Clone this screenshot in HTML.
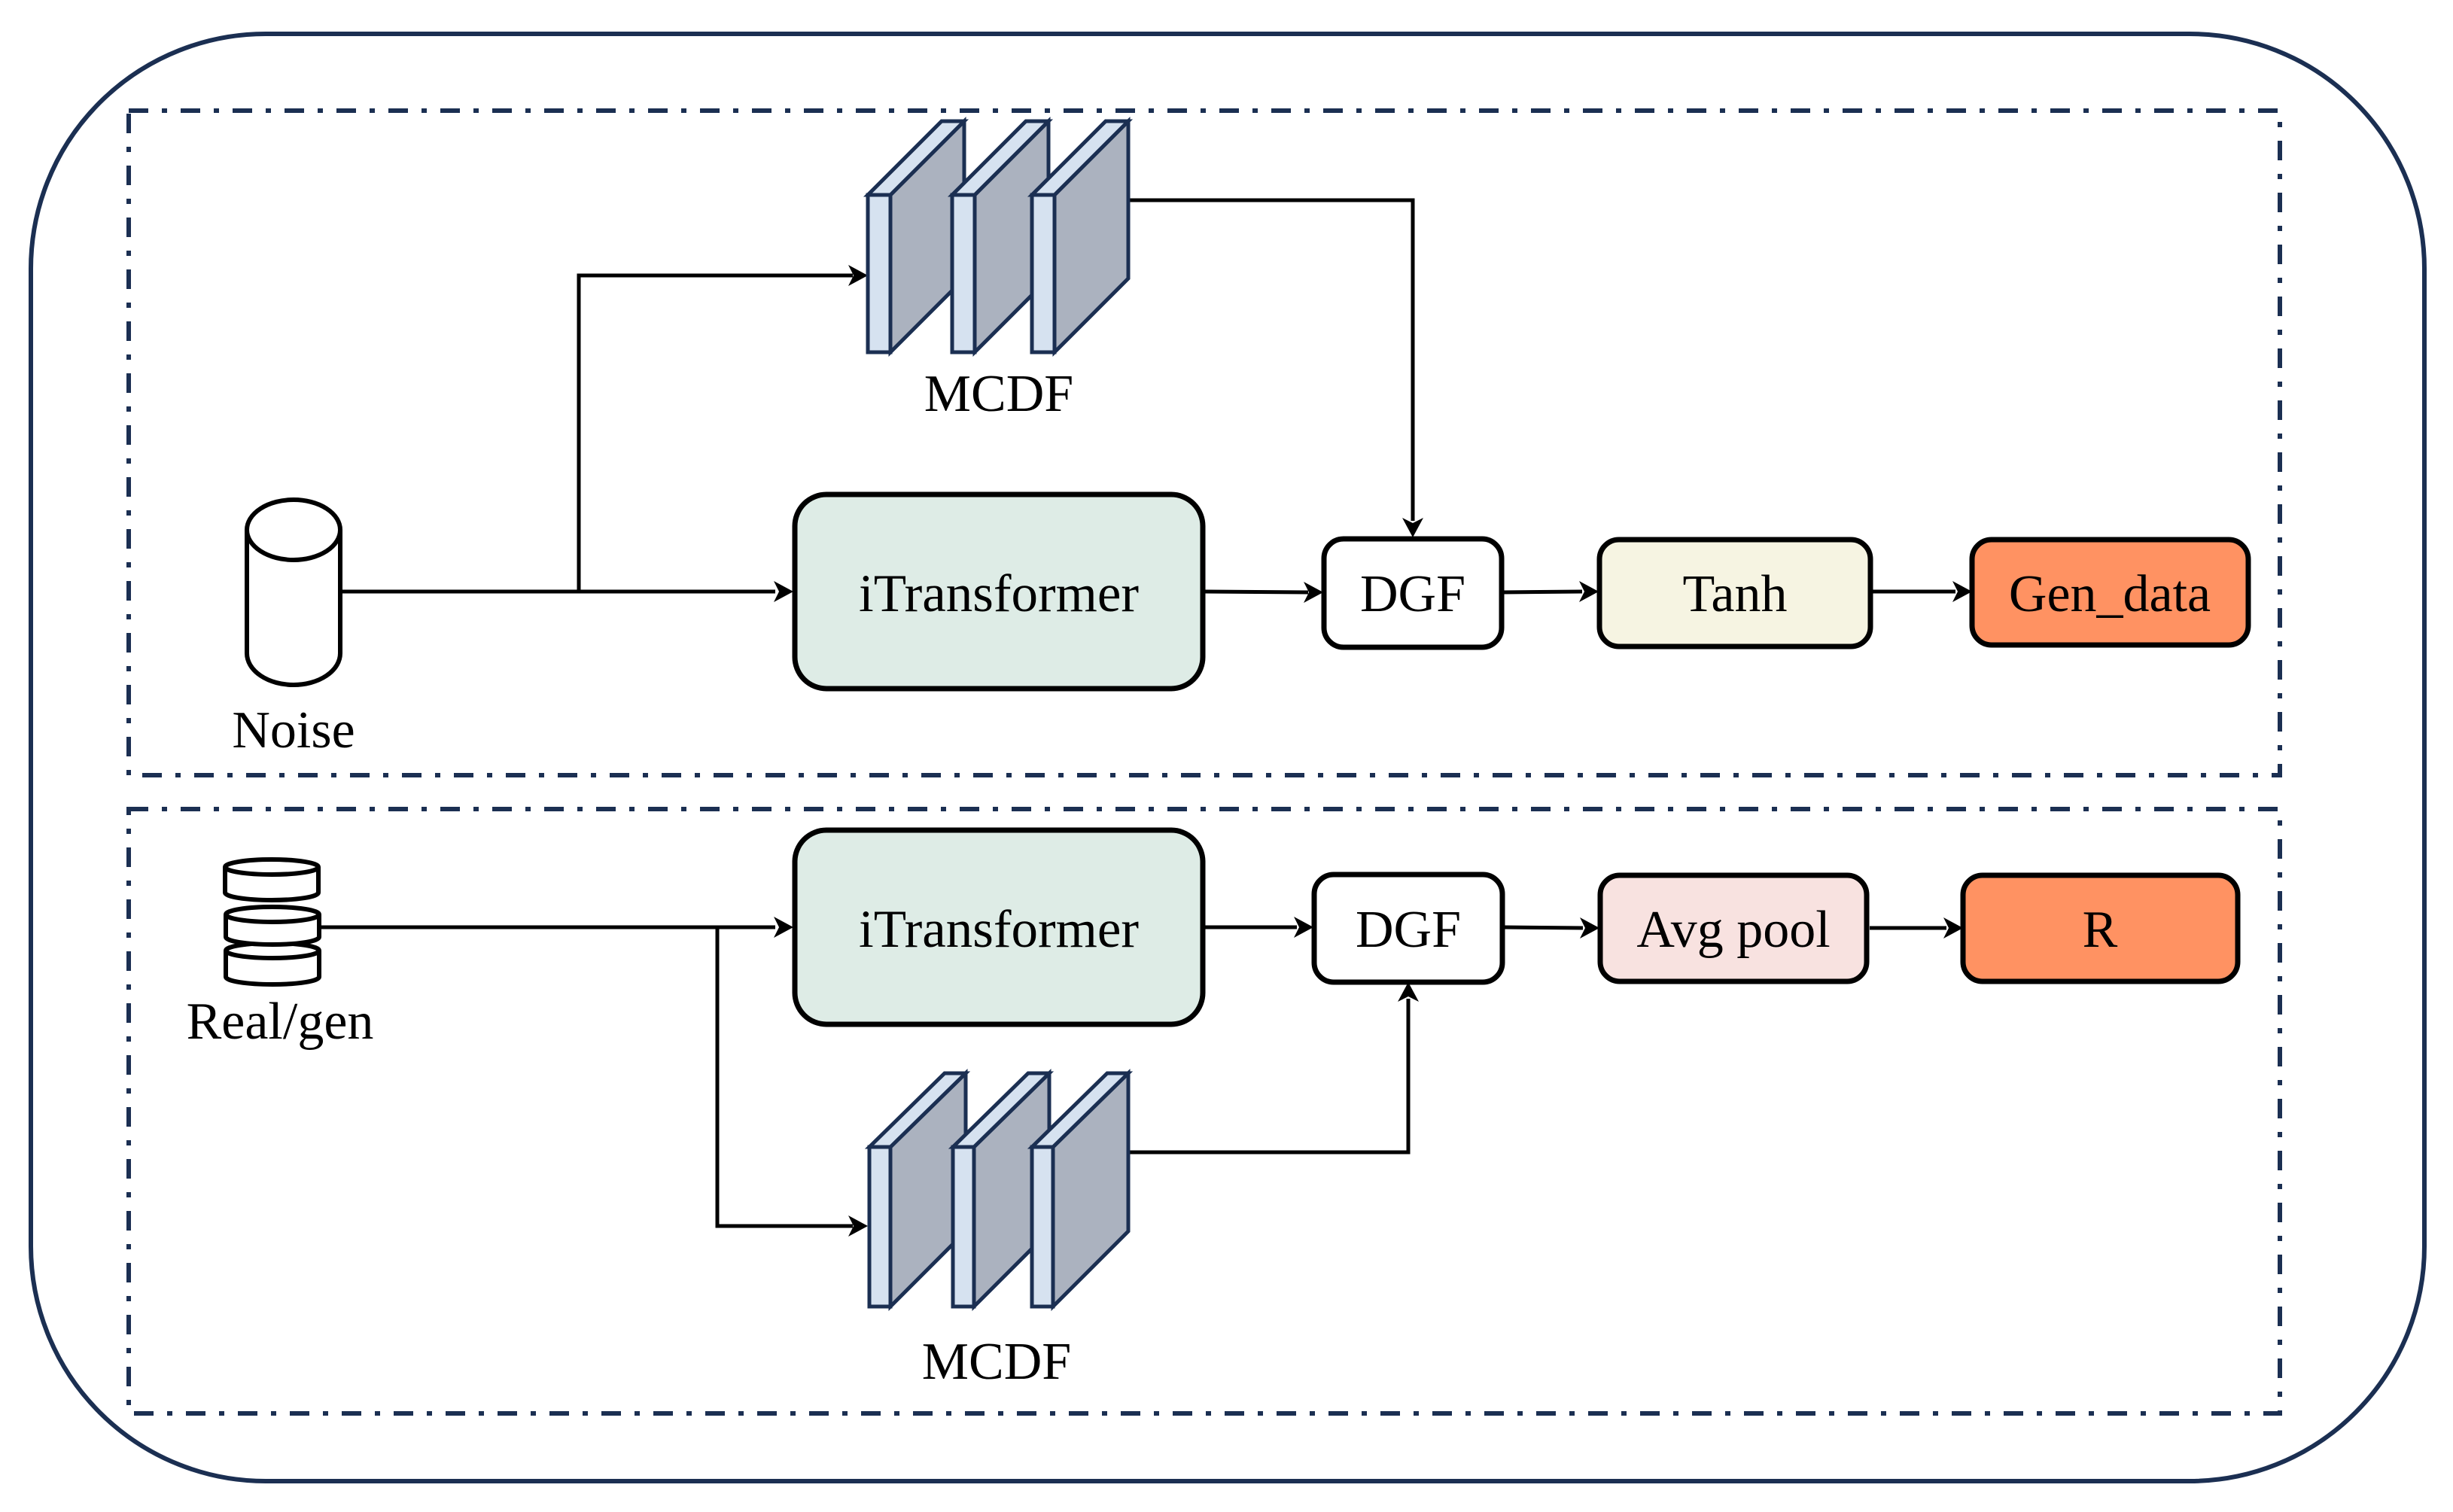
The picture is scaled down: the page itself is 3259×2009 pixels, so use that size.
<!DOCTYPE html>
<html><head><meta charset="utf-8"><style>
html,body{margin:0;padding:0;background:#fff;}
svg{display:block;}
text{font-family:"Liberation Serif",serif;fill:#000;}
</style></head><body>
<svg width="3259" height="2009" viewBox="0 0 3259 2009" xmlns="http://www.w3.org/2000/svg">
<defs>
<g id="arrowR"><path d="M0,0 L-26,-14 L-19,0 L-26,14 Z" fill="#000"/></g>
</defs>
<rect x="0" y="0" width="3259" height="2009" fill="#fff"/>
<rect x="41" y="45" width="3180" height="1923" rx="312" ry="312" fill="none" stroke="#1b2f52" stroke-width="6"/>
<rect x="171" y="147" width="2858" height="883" fill="none" stroke="#1b2f52" stroke-width="6" stroke-dasharray="26 18 7 18"/>
<rect x="171" y="1075" width="2858" height="803" fill="none" stroke="#1b2f52" stroke-width="6" stroke-dasharray="26 18 7 18"/>

<path d="M328,704 L328,868 A62,42 0 0 0 452,868 L452,704" fill="#fff" stroke="#000" stroke-width="6"/>
<ellipse cx="390" cy="704" rx="62" ry="40" fill="#fff" stroke="#000" stroke-width="6"/>
<text x="390" y="993" font-size="70" text-anchor="middle">Noise</text>

<g fill="none" stroke="#000" stroke-width="5">
<path d="M452,786 L1030,786"/>
<path d="M769,786 L769,366 L1133,366"/>
<path d="M1497,266 L1877,266 L1877,692"/>
<path d="M1600,786 L1738,787"/>
<path d="M1995,787 L2102,786"/>
<path d="M2488,786 L2598,786"/>
</g>
<use href="#arrowR" transform="translate(1054,786)"/>
<use href="#arrowR" transform="translate(1153,366)"/>
<use href="#arrowR" transform="translate(1877,714) rotate(90)"/>
<use href="#arrowR" transform="translate(1758,787)"/>
<use href="#arrowR" transform="translate(2124,786)"/>
<use href="#arrowR" transform="translate(2620,786)"/>

<g stroke="#1b2f52" stroke-width="5">
<g transform="translate(1153,0)">
<polygon points="30,259 128,161 128,370 30,468" fill="#abb2bf"/>
<polygon points="0,259 98,161 128,161 30,259" fill="#d6e2f0"/>
<rect x="0" y="259" width="30" height="209" fill="#d6e2f0"/>
</g>
<g transform="translate(1265,0)">
<polygon points="30,259 128,161 128,370 30,468" fill="#abb2bf"/>
<polygon points="0,259 98,161 128,161 30,259" fill="#d6e2f0"/>
<rect x="0" y="259" width="30" height="209" fill="#d6e2f0"/>
</g>
<g transform="translate(1371,0)">
<polygon points="30,259 128,161 128,370 30,468" fill="#abb2bf"/>
<polygon points="0,259 98,161 128,161 30,259" fill="#d6e2f0"/>
<rect x="0" y="259" width="30" height="209" fill="#d6e2f0"/>
</g>
</g>
<text x="1327" y="546" font-size="70" text-anchor="middle">MCDF</text>

<rect x="1056" y="657" width="542" height="258" rx="42" fill="#deece6" stroke="#000" stroke-width="7"/>
<text x="1327" y="812" font-size="71" text-anchor="middle">iTransformer</text>
<rect x="1759" y="716" width="236" height="144" rx="26" fill="#fff" stroke="#000" stroke-width="7"/>
<text x="1877" y="812" font-size="70" text-anchor="middle">DGF</text>
<rect x="2125" y="717" width="360" height="142" rx="26" fill="#f6f4e2" stroke="#000" stroke-width="7"/>
<text x="2305" y="812" font-size="70" text-anchor="middle">Tanh</text>
<rect x="2620" y="717" width="367" height="140" rx="26" fill="#ff9262" stroke="#000" stroke-width="7"/>
<text x="2803" y="812" font-size="70" text-anchor="middle">Gen_data</text>

<g stroke="#000" stroke-width="6" fill="#fff">
<path d="M300,1263 L300,1298 A62,10 0 0 0 424,1298 L424,1263"/>
<ellipse cx="362" cy="1263" rx="62" ry="10"/>
<path d="M300,1215 L300,1245 A62,10 0 0 0 424,1245 L424,1215"/>
<ellipse cx="362" cy="1215" rx="62" ry="10"/>
<path d="M299,1152 L299,1186 A62,10 0 0 0 423,1186 L423,1152"/>
<ellipse cx="361" cy="1152" rx="62" ry="10"/>
</g>
<text x="372" y="1380" font-size="70" text-anchor="middle">Real/gen</text>

<g fill="none" stroke="#000" stroke-width="5">
<path d="M424,1232 L1030,1232"/>
<path d="M953,1232 L953,1629 L1133,1629"/>
<path d="M1497,1531 L1871,1531 L1871,1327"/>
<path d="M1600,1232 L1723,1232"/>
<path d="M1997,1232 L2103,1233"/>
<path d="M2484,1233 L2586,1233"/>
</g>
<use href="#arrowR" transform="translate(1054,1232)"/>
<use href="#arrowR" transform="translate(1153,1629)"/>
<use href="#arrowR" transform="translate(1871,1305) rotate(-90)"/>
<use href="#arrowR" transform="translate(1745,1232)"/>
<use href="#arrowR" transform="translate(2125,1233)"/>
<use href="#arrowR" transform="translate(2608,1233)"/>

<g stroke="#1b2f52" stroke-width="5">
<g transform="translate(1155,1265)">
<polygon points="28,259 128,161 128,371 28,471" fill="#abb2bf"/>
<polygon points="0,259 100,161 128,161 28,259" fill="#d6e2f0"/>
<rect x="0" y="259" width="28" height="212" fill="#d6e2f0"/>
</g>
<g transform="translate(1266,1265)">
<polygon points="28,259 128,161 128,371 28,471" fill="#abb2bf"/>
<polygon points="0,259 100,161 128,161 28,259" fill="#d6e2f0"/>
<rect x="0" y="259" width="28" height="212" fill="#d6e2f0"/>
</g>
<g transform="translate(1371,1265)">
<polygon points="28,259 128,161 128,371 28,471" fill="#abb2bf"/>
<polygon points="0,259 100,161 128,161 28,259" fill="#d6e2f0"/>
<rect x="0" y="259" width="28" height="212" fill="#d6e2f0"/>
</g>
</g>
<text x="1324" y="1832" font-size="70" text-anchor="middle">MCDF</text>

<rect x="1056" y="1103" width="542" height="258" rx="42" fill="#deece6" stroke="#000" stroke-width="7"/>
<text x="1327" y="1258" font-size="71" text-anchor="middle">iTransformer</text>
<rect x="1746" y="1162" width="250" height="143" rx="26" fill="#fff" stroke="#000" stroke-width="7"/>
<text x="1871" y="1258" font-size="70" text-anchor="middle">DGF</text>
<rect x="2126" y="1163" width="354" height="141" rx="26" fill="#f8e2e0" stroke="#000" stroke-width="7"/>
<text x="2303" y="1258" font-size="70" text-anchor="middle">Avg pool</text>
<rect x="2608" y="1163" width="365" height="141" rx="26" fill="#ff9262" stroke="#000" stroke-width="7"/>
<text x="2790" y="1258" font-size="70" text-anchor="middle">R</text>
</svg>
</body></html>
